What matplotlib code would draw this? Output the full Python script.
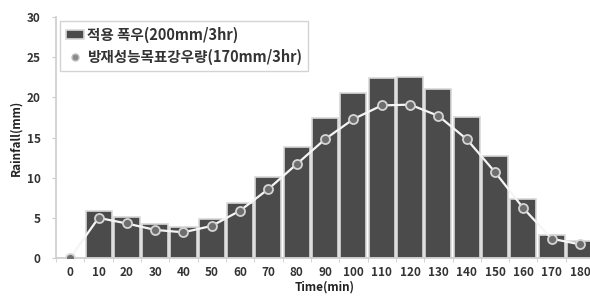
import matplotlib
matplotlib.use("Agg")

import matplotlib.pyplot as plt
import numpy as np
from matplotlib.lines import Line2D

plt.rcParams["font.family"] = ["Noto Sans CJK KR", "DejaVu Sans"]

t = [0, 10, 20, 30, 40, 50, 60, 70, 80, 90, 100, 110, 120, 130, 140, 150, 160, 170, 180]
rain = [0, 5.9, 5.1, 4.2, 3.9, 4.8, 6.9, 10.1, 13.8, 17.4, 20.5, 22.4, 22.6, 21.0, 17.5, 12.7, 7.3, 2.9, 2.1]
goal = [0, 5.0, 4.3, 3.5, 3.2, 4.0, 5.9, 8.6, 11.7, 14.8, 17.3, 19.0, 19.1, 17.7, 14.8, 10.7, 6.2, 2.4, 1.7]

x = np.arange(len(t))

fig = plt.figure(figsize=(5.9, 3.0), dpi=100)
ax = fig.add_axes([0.095, 0.14, 0.912, 0.803])

b = ax.bar(x, rain, width=0.92, color="#4b4b4b", edgecolor="#d8d8d8", linewidth=1.2, zorder=2)
ax.plot(x, goal, color="#f5f5f5", lw=1.6, marker="o", ms=6.5,
        mfc="#6e6e6e", mec="#d4d4d4", mew=1.3, zorder=3)

ax.set_xlim(-0.5, 18.35)
ax.set_ylim(0, 30)
ax.set_yticks([0, 5, 10, 15, 20, 25, 30])
ax.set_xticks(x)
ax.set_xticklabels([str(v) for v in t])
ax.set_xticks(np.arange(-0.5, 18.6, 1), minor=True)
ax.tick_params(axis="x", which="major", length=0, pad=6)
ax.tick_params(axis="x", which="minor", length=3, color="#cccccc")
ax.tick_params(axis="y", length=3, color="#cccccc", pad=8)
for lab in ax.get_xticklabels() + ax.get_yticklabels():
    lab.set_fontsize(8.5)
    lab.set_fontweight("bold")
    lab.set_color("#333333")

ax.set_xlabel("Time(min)", fontsize=8.5, fontweight="bold", color="#222222", labelpad=1)
ax.set_ylabel("Rainfall(mm)", fontsize=8.5, fontweight="bold", color="#222222", labelpad=3)

for s in ["top", "right"]:
    ax.spines[s].set_visible(False)
ax.spines["left"].set_color("#cccccc")
ax.spines["bottom"].set_color("#cccccc")
ax.spines["left"].set_linewidth(1.2)
ax.spines["bottom"].set_linewidth(1.2)

h2 = Line2D([], [], ls="none", marker="o", ms=5, mfc="#8a8a8a", mec="#bdbdbd")
leg = ax.legend([b, h2], ["적용 폭우(200mm/3hr)", "방재성능목표강우량(170mm/3hr)"],
                loc="upper left", bbox_to_anchor=(0.0, 1.0), frameon=True, fancybox=False,
                prop={"size": 10.5, "weight": "bold"}, handlelength=1.3, handleheight=0.5,
                handletextpad=0.2, borderpad=0.4, labelspacing=0.4, borderaxespad=0.25)
leg.get_frame().set_edgecolor("#c8c8c8")
leg.get_frame().set_linewidth(1.0)
for txt in leg.get_texts():
    txt.set_color("#333333")

fig.savefig("out.png", dpi=100)
